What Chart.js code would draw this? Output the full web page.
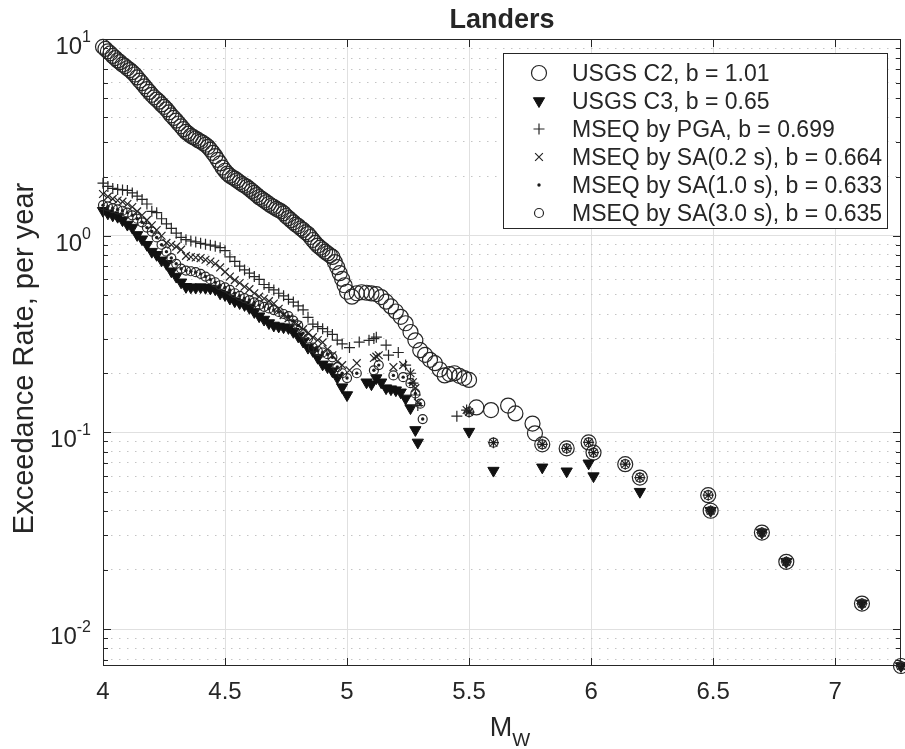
<!DOCTYPE html>
<html lang="en">
<head>
<meta charset="UTF-8">
<title>Landers</title>
<script src="https://cdn.jsdelivr.net/npm/chart.js"></script>
<style>
  body { margin: 0; background: #fff; }
  canvas { display: block; }
</style>
</head>
<body>
<canvas id="rateChart" width="905" height="749"></canvas>
<script>
// Landers - exceedance rate vs magnitude

// USGS C2, b = 1.01
const c2Mag = [4.00,4.01,4.02,4.03,4.04,4.05,4.06,4.07,4.08,4.09,4.10,4.11,4.12,4.13,4.14,4.15,4.16,4.17,4.18,4.19,
  4.20,4.21,4.22,4.23,4.24,4.25,4.26,4.27,4.28,4.29,4.30,4.31,4.32,4.33,4.34,4.35,4.36,4.37,4.38,4.39,
  4.40,4.41,4.42,4.43,4.44,4.45,4.46,4.47,4.48,4.49,4.50,4.51,4.52,4.53,4.54,4.55,4.56,4.57,4.58,4.59,
  4.60,4.61,4.62,4.63,4.64,4.65,4.66,4.67,4.68,4.69,4.70,4.71,4.72,4.73,4.74,4.75,4.76,4.77,4.78,4.79,
  4.80,4.81,4.82,4.83,4.84,4.85,4.86,4.87,4.88,4.89,4.90,4.91,4.92,4.93,4.94,4.95,4.96,4.97,4.98,4.99,
  5.00,5.02,5.04,5.06,5.08,5.10,5.12,5.14,5.16,5.18,
  5.20,5.22,5.24,5.26,5.28,5.30,5.32,5.34,5.36,5.38,5.40,5.42,5.44,5.46,5.48,5.50,
  5.53,5.59,5.66,5.69,5.76,5.77,5.80,5.90,5.99,6.01,6.14,6.20,6.48,6.49,6.70,6.80,7.11,7.27];
const c2Rate = [9.12,8.90,8.65,8.45,8.20,8.00,7.78,7.62,7.41,7.28,7.10,6.95,6.78,6.60,6.38,6.15,5.96,5.75,5.56,5.38,
  5.20,5.05,4.92,4.80,4.65,4.52,4.39,4.24,4.09,3.97,3.85,3.72,3.60,3.48,3.37,3.30,3.22,3.17,3.12,3.06,
  3.01,2.96,2.90,2.83,2.74,2.64,2.54,2.43,2.33,2.22,2.14,2.07,2.02,1.98,1.95,1.91,1.87,1.83,1.80,1.77,
  1.73,1.69,1.65,1.61,1.57,1.54,1.51,1.48,1.45,1.42,1.40,1.37,1.35,1.33,1.30,1.26,1.23,1.20,1.17,1.14,
  1.12,1.09,1.07,1.04,1.02,0.985,0.951,0.92,0.891,0.87,0.851,0.83,0.813,0.795,0.780,0.735,0.692,0.645,0.603,0.56,
  0.519,0.490,0.510,0.516,0.513,0.509,0.505,0.488,0.462,0.437,
  0.412,0.387,0.359,0.324,0.294,0.262,0.248,0.234,0.225,0.209,0.195,0.198,0.200,0.194,0.189,0.185,
  0.134,0.130,0.137,0.125,0.111,0.099,0.087,0.083,0.089,0.079,0.069,0.059,0.048,0.040,0.031,0.022,0.0135,0.0065];

// USGS C3, b = 0.65
const c3Mag = [4.00,4.02,4.04,4.06,4.08,4.10,4.12,4.14,4.16,4.18,4.20,4.22,4.24,4.26,4.28,4.30,4.32,4.34,4.36,4.38,
  4.40,4.42,4.44,4.46,4.48,4.50,4.52,4.54,4.56,4.58,4.60,4.62,4.64,4.66,4.68,4.70,4.72,4.74,4.76,4.78,
  4.80,4.82,4.84,4.86,4.88,4.90,4.92,4.94,4.96,4.98,5.00,
  5.08,5.10,5.12,5.14,5.16,5.18,5.20,5.22,5.24,5.26,5.28,5.29,
  5.50,5.60,5.80,5.90,5.99,6.01,6.20,6.49,6.70,6.80,7.11,7.27];
const c3Rate = [1.34,1.30,1.27,1.25,1.20,1.14,1.10,1.01,0.96,0.90,0.83,0.80,0.75,0.72,0.66,0.62,0.58,0.55,0.547,0.545,
  0.548,0.544,0.54,0.535,0.51,0.50,0.48,0.465,0.455,0.445,0.43,0.41,0.39,0.375,0.36,0.35,0.346,0.343,0.34,0.325,
  0.308,0.29,0.27,0.26,0.24,0.222,0.215,0.205,0.19,0.17,0.155,
  0.180,0.176,0.189,0.180,0.168,0.166,0.164,0.160,0.149,0.133,0.103,0.089,
  0.101,0.064,0.0665,0.0635,0.0697,0.060,0.050,0.040,0.031,0.022,0.0135,0.0065];

// large events shared by the four MSEQ series
const tailMag = [5.60,5.80,5.90,5.99,6.01,6.14,6.20,6.48,6.49,6.70,6.80,7.11,7.27];
const tailRate = [0.0887,0.087,0.083,0.089,0.079,0.069,0.059,0.048,0.040,0.031,0.022,0.0135,0.0065];

// MSEQ by PGA, b = 0.699
const pgaMag = [4.00,4.02,4.04,4.06,4.08,4.10,4.12,4.14,4.16,4.18,4.20,4.22,4.24,4.26,4.28,4.30,4.32,4.34,4.36,4.38,
  4.40,4.42,4.44,4.46,4.48,4.50,4.52,4.54,4.56,4.58,4.60,4.62,4.64,4.66,4.68,4.70,4.72,4.74,4.76,4.78,
  4.80,4.82,4.84,4.86,4.88,4.90,4.92,4.94,4.96,4.98,
  5.01,5.05,5.09,5.11,5.12,5.16,5.17,5.21,5.24,5.26,5.27,5.28,5.29,5.45,5.49,5.50];
const pgaRate = [1.85,1.78,1.74,1.72,1.71,1.70,1.65,1.59,1.53,1.45,1.33,1.31,1.22,1.15,1.09,1.03,0.98,0.955,0.94,0.93,
  0.915,0.905,0.895,0.885,0.87,0.84,0.78,0.74,0.70,0.67,0.645,0.62,0.60,0.565,0.545,0.53,0.51,0.495,0.475,0.46,
  0.44,0.42,0.385,0.355,0.345,0.337,0.325,0.315,0.295,0.282,
  0.27,0.288,0.294,0.30,0.305,0.278,0.247,0.255,0.22,0.20,0.178,0.155,0.137,0.121,0.130,0.127];

// MSEQ by SA(0.2 s), b = 0.664
const sa02Mag = [4.00,4.02,4.04,4.06,4.08,4.10,4.12,4.14,4.16,4.18,4.20,4.22,4.24,4.26,4.28,4.30,4.32,4.34,4.36,4.38,
  4.40,4.42,4.44,4.46,4.48,4.50,4.52,4.54,4.56,4.58,4.60,4.62,4.64,4.66,4.68,4.70,4.72,4.74,4.76,4.78,
  4.80,4.82,4.84,4.86,4.88,4.90,4.92,4.94,4.96,4.98,
  5.01,5.04,5.11,5.12,5.13,5.19,5.23,5.26,5.27,5.28,5.29,5.49,5.50];
const sa02Rate = [1.63,1.58,1.54,1.51,1.49,1.45,1.40,1.33,1.27,1.20,1.13,1.07,1.00,0.92,0.90,0.88,0.85,0.79,0.78,0.775,
  0.77,0.755,0.74,0.72,0.69,0.655,0.62,0.595,0.575,0.55,0.535,0.51,0.49,0.48,0.465,0.452,0.425,0.395,0.38,0.362,
  0.35,0.335,0.32,0.305,0.295,0.287,0.265,0.247,0.23,0.22,
  0.207,0.225,0.239,0.243,0.247,0.215,0.22,0.20,0.18,0.168,0.142,0.130,0.127];

// MSEQ by SA(1.0 s), b = 0.633
const sa10Mag = [4.00,4.02,4.04,4.06,4.08,4.10,4.12,4.14,4.16,4.18,4.20,4.22,4.24,4.26,4.28,4.30,4.32,4.34,4.36,4.38,
  4.40,4.42,4.44,4.46,4.48,4.50,4.52,4.54,4.56,4.58,4.60,4.62,4.64,4.66,4.68,4.70,4.72,4.74,4.76,4.78,
  4.80,4.82,4.84,4.86,4.88,4.90,4.92,4.94,4.96,4.98,5.00,
  5.04,5.11,5.13,5.19,5.23,5.26,5.28,5.30,5.31,5.50];
const sa10Rate = [1.43,1.41,1.38,1.36,1.34,1.31,1.27,1.22,1.17,1.10,1.05,0.98,0.90,0.83,0.77,0.72,0.68,0.665,0.66,0.653,
  0.64,0.62,0.60,0.58,0.56,0.546,0.53,0.51,0.495,0.482,0.471,0.458,0.444,0.435,0.427,0.419,0.41,0.40,0.39,0.37,
  0.35,0.32,0.30,0.27,0.26,0.255,0.25,0.241,0.215,0.20,0.189,
  0.20,0.207,0.22,0.195,0.191,0.178,0.158,0.14,0.117,0.127];

// MSEQ by SA(3.0 s), b = 0.635
const sa30Mag = [4.00,4.02,4.04,4.06,4.08,4.10,4.12,4.14,4.16,4.18,4.20,4.22,4.24,4.26,4.28,4.30,4.32,4.34,4.36,4.38,
  4.40,4.42,4.44,4.46,4.48,4.50,4.52,4.54,4.56,4.58,4.60,4.62,4.64,4.66,4.68,4.70,4.72,4.74,4.76,4.78,
  4.80,4.82,4.84,4.86,4.88,4.90,4.92,4.94,4.96,4.98,5.00,
  5.04,5.11,5.13,5.19,5.23,5.26,5.28,5.30,5.31,5.50];
const sa30Rate = [1.43,1.41,1.38,1.36,1.34,1.31,1.27,1.22,1.17,1.10,1.05,0.98,0.90,0.83,0.77,0.72,0.68,0.665,0.66,0.653,
  0.64,0.62,0.60,0.58,0.56,0.546,0.53,0.51,0.495,0.482,0.471,0.458,0.444,0.435,0.427,0.419,0.41,0.40,0.39,0.37,
  0.35,0.32,0.30,0.27,0.26,0.255,0.25,0.241,0.215,0.20,0.189,
  0.20,0.207,0.22,0.195,0.191,0.178,0.158,0.14,0.117,0.127];

// axis ticks
const xTicks = [4, 4.5, 5, 5.5, 6, 6.5, 7];
const yTicks = [0.007,0.008,0.009,0.01,0.02,0.03,0.04,0.05,0.06,0.07,0.08,0.09,
  0.1,0.2,0.3,0.4,0.5,0.6,0.7,0.8,0.9,1,2,3,4,5,6,7,8,9,10];
const yDecades = [0.01, 0.1, 1, 10];
const yExponents = ['-2', '-1', '0', '1'];

const FONT = '"Liberation Sans", Arial, Helvetica, sans-serif';
const INK = '#262626';

function isDecade(v) {
    const l = Math.log10(v);
    return Math.abs(l - Math.round(l)) < 1e-6;
}

function series(label, mags, rates, style) {
    return Object.assign({
        label: label,
        data: mags.map((m, i) => ({ x: m, y: rates[i] })),
        showLine: false,
        clip: false
    }, style);
}

const datasets = [
    series('USGS C2, b = 1.01', c2Mag, c2Rate, {
        pointStyle: 'circle', pointRadius: 7.5, pointBorderWidth: 1.2,
        pointBorderColor: '#262626', pointBackgroundColor: 'rgba(0,0,0,0)', order: 6 }),
    series('USGS C3, b = 0.65', c3Mag, c3Rate, {
        pointStyle: 'triangle', pointRotation: 180, pointRadius: 6.5, pointBorderWidth: 1,
        pointBorderColor: '#111', pointBackgroundColor: '#111', order: 5 }),
    series('MSEQ by PGA, b = 0.699', pgaMag.concat(tailMag), pgaRate.concat(tailRate), {
        pointStyle: 'cross', pointRadius: 5.5, pointBorderWidth: 1.2,
        pointBorderColor: '#262626', pointBackgroundColor: '#262626', order: 4 }),
    series('MSEQ by SA(0.2 s), b = 0.664', sa02Mag.concat(tailMag), sa02Rate.concat(tailRate), {
        pointStyle: 'crossRot', pointRadius: 5.5, pointBorderWidth: 1.2,
        pointBorderColor: '#262626', pointBackgroundColor: '#262626', order: 3 }),
    series('MSEQ by SA(1.0 s), b = 0.633', sa10Mag.concat(tailMag), sa10Rate.concat(tailRate), {
        pointStyle: 'circle', pointRadius: 1.7, pointBorderWidth: 0,
        pointBorderColor: '#1a1a1a', pointBackgroundColor: '#1a1a1a', order: 2 }),
    series('MSEQ by SA(3.0 s), b = 0.635', sa30Mag.concat(tailMag), sa30Rate.concat(tailRate), {
        pointStyle: 'circle', pointRadius: 4.5, pointBorderWidth: 1.2,
        pointBorderColor: '#262626', pointBackgroundColor: 'rgba(0,0,0,0)', order: 1 })
];

// frame, inward ticks, y labels with exponents, titles and legend box
const decorPlugin = {
    id: 'decor',
    afterDraw(chart) {
        const { ctx, chartArea: a, scales: { x, y } } = chart;
        ctx.save();
        ctx.strokeStyle = INK;
        ctx.lineWidth = 1;

        ctx.beginPath();
        xTicks.forEach(v => {
            const px = Math.round(x.getPixelForValue(v)) + 0.5;
            ctx.moveTo(px, a.bottom); ctx.lineTo(px, a.bottom - 8);
            ctx.moveTo(px, a.top); ctx.lineTo(px, a.top + 8);
        });
        yTicks.forEach(v => {
            const py = Math.round(y.getPixelForValue(v)) + 0.5;
            const len = isDecade(v) ? 8 : 5;
            ctx.moveTo(a.left, py); ctx.lineTo(a.left + len, py);
            ctx.moveTo(a.right, py); ctx.lineTo(a.right - len, py);
        });
        ctx.stroke();
        ctx.strokeRect(Math.round(a.left) + 0.5, Math.round(a.top) + 0.5,
            Math.round(a.right - a.left) - 1, Math.round(a.bottom - a.top) - 1);

        // y tick labels 10^n
        ctx.fillStyle = INK;
        ctx.textAlign = 'left';
        ctx.textBaseline = 'alphabetic';
        yDecades.forEach((v, i) => {
            const py = y.getPixelForValue(v);
            const right = a.left - 12;
            ctx.font = '16px ' + FONT;
            const supW = ctx.measureText(yExponents[i]).width;
            ctx.fillText(yExponents[i], right - supW, py + 3);
            ctx.font = '24px ' + FONT;
            const baseW = ctx.measureText('10').width;
            ctx.fillText('10', right - supW - baseW, py + 15);
        });

        // title
        ctx.textAlign = 'center';
        ctx.font = 'bold 27px ' + FONT;
        ctx.fillText('Landers', (a.left + a.right) / 2, 28);

        // y axis title
        ctx.save();
        ctx.translate(33, (a.top + a.bottom) / 2 + 6);
        ctx.rotate(-Math.PI / 2);
        ctx.font = '29px ' + FONT;
        ctx.fillText('Exceedance Rate, per year', 0, 0);
        ctx.restore();

        // x axis title M_W
        ctx.textAlign = 'left';
        ctx.font = '27px ' + FONT;
        const mW = ctx.measureText('M').width;
        ctx.font = '19px ' + FONT;
        const wW = ctx.measureText('W').width;
        const mx = (a.left + a.right) / 2 + 8 - (mW + wW) / 2;
        ctx.font = '27px ' + FONT;
        ctx.fillText('M', mx, 736);
        ctx.font = '19px ' + FONT;
        ctx.fillText('W', mx + mW, 746);

        // legend
        const bx = 503.5, by = 53.5, bw = 384, bh = 175;
        ctx.fillStyle = '#fff';
        ctx.fillRect(bx, by, bw, bh);
        ctx.strokeStyle = INK;
        ctx.strokeRect(bx, by, bw, bh);
        ctx.font = '23px ' + FONT;
        chart.data.datasets.forEach((ds, i) => {
            const cy = 73 + i * 28;
            ctx.save();
            ctx.strokeStyle = ds.pointBorderColor;
            ctx.fillStyle = ds.pointBackgroundColor;
            ctx.lineWidth = ds.pointBorderWidth || 1;
            Chart.helpers.drawPoint(ctx, {
                pointStyle: ds.pointStyle,
                radius: ds.pointRadius,
                rotation: ds.pointRotation || 0,
                borderWidth: ds.pointBorderWidth
            }, 539, cy);
            ctx.restore();
            ctx.fillStyle = INK;
            ctx.fillText(ds.label, 572, cy + 8);
        });
        ctx.restore();
    }
};

new Chart(document.getElementById('rateChart'), {
    type: 'scatter',
    data: { datasets: datasets },
    options: {
        responsive: false,
        animation: false,
        events: [],
        layout: { autoPadding: false, padding: { top: 39, right: 4, left: 0, bottom: 0 } },
        plugins: { legend: { display: false }, tooltip: { enabled: false } },
        scales: {
            x: {
                type: 'linear', min: 4, max: 7.27,
                ticks: {
                    stepSize: 0.5, includeBounds: false, autoSkip: false, maxRotation: 0,
                    padding: 12, color: INK, font: { family: FONT, size: 24 },
                    callback: v => String(v)
                },
                grid: { color: '#e0e0e0', drawTicks: false },
                border: { display: false },
                afterFit: s => { s.height = 83; }
            },
            y: {
                type: 'logarithmic', min: 0.0065, max: 10,
                afterBuildTicks: s => { s.ticks = yTicks.map(v => ({ value: v, major: isDecade(v) })); },
                ticks: { display: false },
                grid: {
                    color: c => (c.tick && isDecade(c.tick.value)) ? '#e0e0e0' : '#c4c4c4',
                    drawTicks: false
                },
                border: {
                    display: false,
                    dash: c => (c.tick && !isDecade(c.tick.value)) ? [1.5, 6.5] : []
                },
                afterFit: s => { s.width = 103; }
            }
        }
    },
    plugins: [decorPlugin]
});
</script>
</body>
</html>
